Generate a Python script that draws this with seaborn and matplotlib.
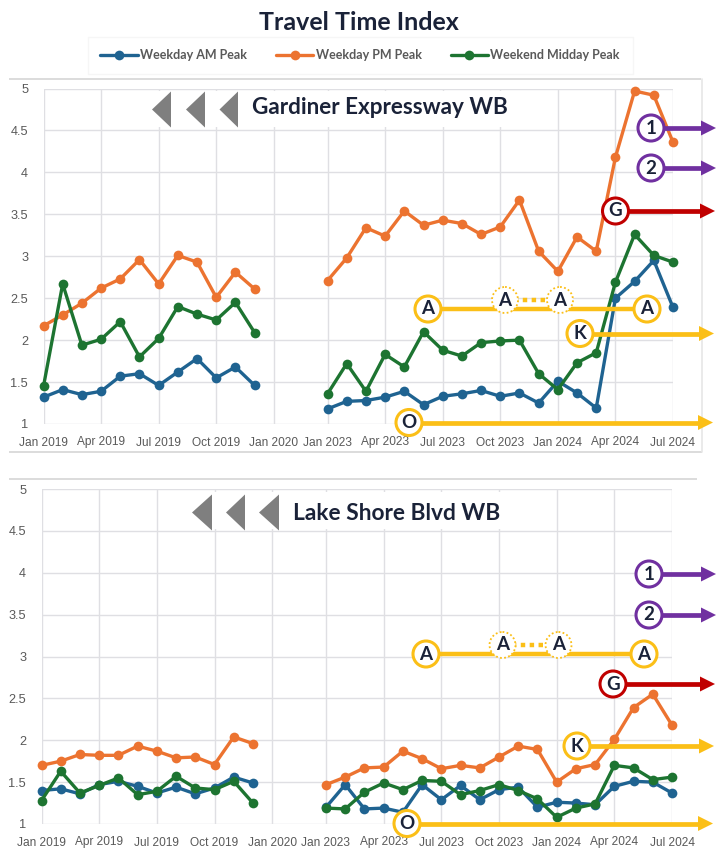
import matplotlib
matplotlib.use("Agg")
import matplotlib.pyplot as plt
from matplotlib.patches import Circle, Rectangle, Polygon
import pandas as pd
import seaborn as sns

G_AM_19 = [1.32, 1.41, 1.35, 1.39, 1.57, 1.60, 1.46, 1.62, 1.78, 1.55, 1.68, 1.46]
G_PM_19 = [2.17, 2.30, 2.44, 2.62, 2.73, 2.96, 2.67, 3.01, 2.93, 2.51, 2.81, 2.61]
G_WE_19 = [1.45, 2.67, 1.94, 2.01, 2.22, 1.80, 2.02, 2.40, 2.31, 2.24, 2.45, 2.09]
G_AM_23 = [1.18, 1.27, 1.28, 1.32, 1.39, 1.23, 1.33, 1.36, 1.40, 1.33, 1.37, 1.25, 1.51, 1.37, 1.19, 2.50, 2.70, 2.95, 2.39]
G_PM_23 = [2.71, 2.98, 3.34, 3.24, 3.54, 3.37, 3.43, 3.39, 3.26, 3.35, 3.67, 3.06, 2.82, 3.23, 3.06, 4.18, 4.97, 4.92, 4.36]
G_WE_23 = [1.36, 1.72, 1.39, 1.83, 1.68, 2.10, 1.88, 1.81, 1.97, 1.99, 2.00, 1.60, 1.41, 1.73, 1.85, 2.69, 3.26, 3.01, 2.93]

L_AM_19 = [1.40, 1.42, 1.36, 1.47, 1.51, 1.45, 1.37, 1.44, 1.36, 1.43, 1.56, 1.49]
L_PM_19 = [1.70, 1.75, 1.83, 1.82, 1.82, 1.93, 1.87, 1.79, 1.80, 1.71, 2.04, 1.96]
L_WE_19 = [1.28, 1.63, 1.37, 1.46, 1.55, 1.35, 1.39, 1.57, 1.43, 1.41, 1.51, 1.25]
L_AM_23 = [1.20, 1.47, 1.18, 1.19, 1.14, 1.47, 1.29, 1.46, 1.29, 1.41, 1.44, 1.20, 1.26, 1.25, 1.23, 1.45, 1.51, 1.50, 1.37]
L_PM_23 = [1.47, 1.56, 1.67, 1.68, 1.87, 1.78, 1.66, 1.70, 1.67, 1.80, 1.93, 1.89, 1.50, 1.66, 1.71, 2.01, 2.39, 2.55, 2.18]
L_WE_23 = [1.19, 1.18, 1.38, 1.49, 1.41, 1.52, 1.51, 1.35, 1.40, 1.47, 1.40, 1.30, 1.08, 1.19, 1.24, 1.70, 1.67, 1.53, 1.56]

SERIES = ["Weekday AM Peak", "Weekday PM Peak", "Weekend Midday Peak"]
COLORS = ["#1f6391", "#ec7330", "#1d7431"]
TICK_LABELS = ["Jan 2019", "Apr 2019", "Jul 2019", "Oct 2019", "Jan 2020", "Jan 2023", "Apr 2023",
               "Jul 2023", "Oct 2023", "Jan 2024", "Apr 2024", "Jul 2024"]
TICK_POS = [0, 3, 6, 9, 12, 14.8, 17.8, 20.8, 23.8, 26.8, 29.8, 32.8]
Y_TICKS = [1, 1.5, 2, 2.5, 3, 3.5, 4, 4.5, 5]
Y_LABELS = ["1", "1.5", "2", "2.5", "3", "3.5", "4", "4.5", "5"]
GAP_START = 14.8

NARROW = ["Lato", "Liberation Sans", "DejaVu Sans"]
GREY = "#595959"
NAVY = "#1a2238"
PURPLE = "#7030a0"
RED = "#c00000"
YELLOW = "#fbbf17"

sns.set_theme(style="white")
plt.rcParams["font.family"] = ["Liberation Sans", "DejaVu Sans"]

W, H = 717, 851
fig = plt.figure(figsize=(W / 100, H / 100), dpi=100, facecolor="white")


def frame(rows19, rows23):
    recs = []
    for name, vals in zip(SERIES, rows19):
        recs += [dict(x=i, y=v, series=name, period="a") for i, v in enumerate(vals)]
    for name, vals in zip(SERIES, rows23):
        recs += [dict(x=GAP_START + i, y=v, series=name, period="b") for i, v in enumerate(vals)]
    return pd.DataFrame(recs)


def panel(left, right, top, bottom, rows19, rows23, legend=False):
    ax = fig.add_axes([left / W, 1 - bottom / H, (right - left) / W, (bottom - top) / H])
    ax.set_facecolor("none")
    sns.lineplot(data=frame(rows19, rows23), x="x", y="y", hue="series", units="period",
                 estimator=None, sort=False, hue_order=SERIES, palette=COLORS, marker="o",
                 markersize=7, markeredgewidth=0, linewidth=2.4, ax=ax, legend=legend,
                 clip_on=False, zorder=3)
    ax.set_xlim(0, TICK_POS[-1])
    ax.set_ylim(1, 5)
    ax.set_xticks(TICK_POS, TICK_LABELS)
    ax.set_yticks(Y_TICKS, Y_LABELS)
    ax.grid(True, color="#dfdfe3", linewidth=1.0)
    ax.set_axisbelow(True)
    ax.set_xlabel("")
    ax.set_ylabel("")
    ax.tick_params(axis="x", labelsize=8.6, labelcolor=GREY, length=0, pad=9)
    ax.tick_params(axis="y", labelsize=9.2, labelcolor=GREY, length=0, pad=11)
    for s in ax.spines.values():
        s.set_visible(False)
    return ax


ax1 = panel(43.5, 673, 88.5, 424, [G_AM_19, G_PM_19, G_WE_19], [G_AM_23, G_PM_23, G_WE_23], legend=True)
ax2 = panel(41.5, 672, 489, 824, [L_AM_19, L_PM_19, L_WE_19], [L_AM_23, L_PM_23, L_WE_23])

handles, labels = ax1.get_legend_handles_labels()
ax1.get_legend().remove()
fig.legend(handles, labels, ncols=3, loc="center", bbox_to_anchor=(360 / W, 1 - 55 / H), frameon=True,
           fancybox=False, edgecolor="#f4f4f4", facecolor="white", handlelength=3.0, handletextpad=0.2,
           columnspacing=2.3, borderpad=1.0, labelcolor=GREY,
           prop=dict(family=NARROW, size=9, weight="bold"))

ov = fig.add_axes([0, 0, 1, 1], zorder=10)
ov.set_xlim(0, W)
ov.set_ylim(H, 0)
ov.axis("off")
ov.patch.set_alpha(0)


def rule(x0, x1, y, color="#dcdcdc", lw=1.4):
    ov.plot([x0, x1], [y, y], color=color, lw=lw, solid_capstyle="butt", zorder=1)


rule(9, 701, 79)
rule(9, 702, 452)
ov.plot([702, 702], [79, 452], color="#e6e6e6", lw=1.2, zorder=1)
rule(9, 697, 479)

# title panels blocking the grid
ov.add_patch(Rectangle((142, 91), 370, 36, fc="white", ec="none", zorder=2))
ov.add_patch(Rectangle((186, 492), 320, 37, fc="white", ec="none", zorder=2))

for apex, base, yc in [(152, 171, 109.5), (186, 205, 109.5), (219.5, 238, 109.5),
                       (192, 212, 512.5), (226, 245, 512.5), (259, 279, 512.5)]:
    ov.add_patch(Polygon([(apex, yc), (base, yc - 18), (base, yc + 18)], closed=True,
                         fc="#7f7f7f", ec="none", zorder=3))

txt = dict(family=NARROW, weight="bold", color=NAVY, ha="center", va="center", zorder=3)
ov.text(358.5, 22, "Travel Time Index", fontsize=18, **txt)
ov.text(379.5, 108, "Gardiner Expressway WB", fontsize=16.2, **txt)
ov.text(397, 513, "Lake Shore Blvd WB", fontsize=16.4, **txt)


def badge(x, y, label, color, dotted=False):
    ov.add_patch(Circle((x, y), 13, fc="white", ec=color, lw=1.3 if dotted else 2.2,
                        ls=(0, (1, 1.3)) if dotted else "-", zorder=6))
    ov.text(x, y, label, family=NARROW, weight="bold", color=NAVY, fontsize=13.5,
            ha="center", va="center", zorder=7)


def arrow(x0, x1, y, color):
    ov.plot([x0, x1 - 12], [y, y], color=color, lw=3.4, solid_capstyle="butt", zorder=5)
    ov.add_patch(Polygon([(x1, y), (x1 - 15, y - 7.5), (x1 - 15, y + 7.5)], closed=True,
                         fc=color, ec="none", zorder=5))


def callouts(one, two, g, k, o, a):
    for (x, y), label, color, end in [(one, "1", PURPLE, 716), (two, "2", PURPLE, 716), (g, "G", RED, 715),
                                      (k, "K", YELLOW, 714), (o, "O", YELLOW, 713)]:
        arrow(x, end, y, color)
        badge(x, y, label, color)
    ax0, ax3, ay, dx1, dx2, dy = a
    ov.plot([ax0, ax3], [ay, ay], color=YELLOW, lw=3.2, solid_capstyle="butt", zorder=5)
    ov.plot([dx1, dx2], [dy, dy], color=YELLOW, lw=3.2, ls=(0, (1, 1)), zorder=5)
    badge(ax0, ay, "A", YELLOW)
    badge(ax3, ay, "A", YELLOW)
    badge(dx1, dy, "A", YELLOW, dotted=True)
    badge(dx2, dy, "A", YELLOW, dotted=True)


callouts((651, 128), (651, 168), (615.5, 211), (580, 333.5), (409, 422.5), (428, 647, 309, 505, 560, 300))
callouts((649, 574), (649, 615), (613, 684), (577, 746), (407, 823.5), (426, 644, 654, 502.5, 558.5, 645))

fig.savefig("out.png", dpi=100, facecolor="white")
